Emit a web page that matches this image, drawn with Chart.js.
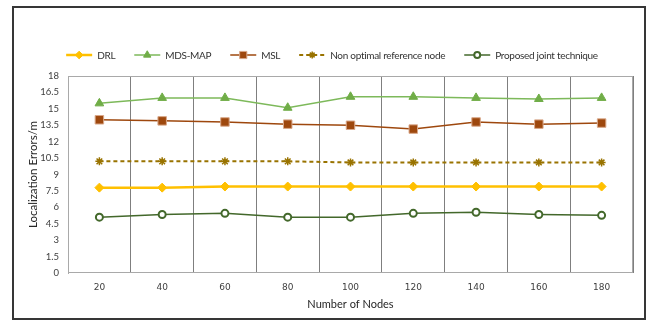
<!DOCTYPE html>
<html>
<head>
<meta charset="utf-8">
<script src="https://cdn.jsdelivr.net/npm/chart.js@4.4.1/dist/chart.umd.min.js"></script>
<style>
    html, body { margin: 0; padding: 0; background: #fff; }
    #wrap { position: relative; width: 650px; height: 321px; }
    #frame {
        position: absolute; left: 12px; top: 6px; width: 634px; height: 314px;
        box-sizing: border-box; border: 2px solid #363636; pointer-events: none;
    }
    canvas { position: absolute; left: 0; top: 0; }
</style>
</head>
<body>
<div id="wrap">
    <canvas id="errChart" width="650" height="321"></canvas>
    <div id="frame"></div>
</div>
<script>
// Données
const nodes = ['20', '40', '60', '80', '100', '120', '140', '160', '180'];
const yTicks = [0, 1.5, 3, 4.5, 6, 7.5, 9, 10.5, 12, 13.5, 15, 16.5, 18];

const drl = [7.8, 7.8, 7.9, 7.9, 7.9, 7.9, 7.9, 7.9, 7.9];
const mdsMap = [15.5, 16.0, 16.0, 15.1, 16.1, 16.1, 16.0, 15.9, 16.0];
const msl = [14.0, 13.9, 13.8, 13.6, 13.5, 13.15, 13.8, 13.6, 13.7];
const nonOptimal = [10.2, 10.2, 10.2, 10.2, 10.1, 10.1, 10.1, 10.1, 10.1];
const proposed = [5.1, 5.35, 5.45, 5.1, 5.1, 5.45, 5.55, 5.35, 5.27];

const textFont = 'Lato';

// Légende dessinée à la main (ligne + marqueur + texte)
const lineLegend = {
    id: 'lineLegend',
    afterDraw(chart) {
        const ctx = chart.ctx;
        const lineLen = 26, gapText = 5, gapItem = 19, cy = 55;
        ctx.save();
        ctx.font = '10px ' + textFont;
        ctx.letterSpacing = '-0.3px';
        const items = chart.data.datasets.map(ds => ({ ds, w: ctx.measureText(ds.label).width }));
        const total = items.reduce((s, it) => s + lineLen + gapText + it.w, 0) + gapItem * (items.length - 1);
        let x = 332 - total / 2;
        items.forEach(({ ds, w }) => {
            ctx.save();
            ctx.strokeStyle = ds.borderColor;
            ctx.lineWidth = ds.borderWidth;
            ctx.setLineDash(ds.borderDash || []);
            ctx.beginPath();
            ctx.moveTo(x, cy);
            ctx.lineTo(x + lineLen, cy);
            ctx.stroke();
            ctx.restore();

            ctx.save();
            ctx.fillStyle = ds.pointBackgroundColor;
            ctx.strokeStyle = ds.pointBorderColor;
            ctx.lineWidth = ds.pointBorderWidth;
            Chart.helpers.drawPoint(ctx, {
                pointStyle: ds.pointStyle,
                radius: ds.pointRadius * 0.85,
                rotation: 0,
                borderWidth: ds.pointBorderWidth
            }, x + lineLen / 2, cy);
            ctx.restore();

            ctx.fillStyle = '#333';
            ctx.textBaseline = 'middle';
            ctx.textAlign = 'left';
            ctx.fillText(ds.label, x + lineLen + gapText, cy + 1);
            x += lineLen + gapText + w + gapItem;
        });
        ctx.restore();
    }
};

// Cadre gris de la zone de tracé
const plotBorder = {
    id: 'plotBorder',
    beforeDatasetsDraw(chart) {
        const { ctx, chartArea: a } = chart;
        ctx.save();
        ctx.strokeStyle = '#a9a9a9';
        ctx.lineWidth = 1;
        const l = Math.round(a.left) + 0.5, r = Math.round(a.right) - 0.5;
        const t = Math.round(a.top) + 0.5, b = Math.round(a.bottom) - 0.5;
        ctx.strokeRect(l, t, r - l, b - t);
        ctx.restore();
    }
};

function makeSeries(label, data, color, style) {
    return Object.assign({
        label: label,
        data: data,
        borderColor: color,
        backgroundColor: color,
        pointBackgroundColor: color,
        pointBorderColor: color,
        pointBorderWidth: 1,
        borderWidth: 1.5,
        pointRadius: 5,
        tension: 0,
        fill: false
    }, style);
}

const chartConfig = {
    type: 'line',
    data: {
        labels: nodes,
        datasets: [
            makeSeries('DRL', drl, '#FFC000', { borderWidth: 2.5, pointStyle: 'rectRot', pointRadius: 4.5 }),
            makeSeries('MDS-MAP', mdsMap, '#70AD47', { borderColor: '#7DB95A', pointStyle: 'triangle', pointRadius: 5 }),
            makeSeries('MSL', msl, '#9E480E', { pointStyle: 'rect', pointRadius: 6, pointBorderColor: '#d9a88a' }),
            makeSeries('Non optimal reference node', nonOptimal, '#997300', { borderWidth: 2, borderDash: [4, 3], pointStyle: 'star', pointRadius: 4, pointBorderWidth: 1.5 }),
            makeSeries('Proposed joint technique', proposed, '#43682B', { pointStyle: 'circle', pointRadius: 3.5, pointBorderWidth: 2, pointBackgroundColor: '#ffffff' })
        ]
    },
    options: {
        responsive: false,
        animation: false,
        devicePixelRatio: 1,
        layout: { padding: { top: 76, right: 17, left: 0, bottom: 0 } },
        plugins: {
            legend: { display: false },
            tooltip: { enabled: false }
        },
        scales: {
            x: {
                offset: true,
                grid: { offset: true, color: '#7f7f7f', lineWidth: 1, drawTicks: false },
                border: { display: false },
                ticks: { padding: 9, color: '#404040', font: { family: 'DejaVu Sans', size: 9 } },
                title: {
                    display: true, text: 'Number of Nodes', color: '#262626',
                    font: { family: textFont, size: 11 }, padding: { top: 0, bottom: 10 }
                },
                afterFit: (scale) => { scale.height = 48; }
            },
            y: {
                min: 0,
                max: 18,
                afterBuildTicks: (scale) => { scale.ticks = yTicks.map(v => ({ value: v })); },
                grid: { display: false, drawTicks: false },
                border: { display: true, color: '#a9a9a9' },
                ticks: {
                    padding: 9, color: '#404040', font: { family: textFont, size: 9.5 },
                    callback: (v) => String(v)
                },
                title: {
                    display: true, text: 'Localization Errors/m', color: '#262626',
                    font: { family: textFont, size: 11.5 }, padding: { top: 26, bottom: 0 }
                },
                afterFit: (scale) => { scale.width = 68; }
            }
        }
    },
    plugins: [plotBorder, lineLegend]
};

const chart = new Chart(document.getElementById('errChart'), chartConfig);
</script>
</body>
</html>
